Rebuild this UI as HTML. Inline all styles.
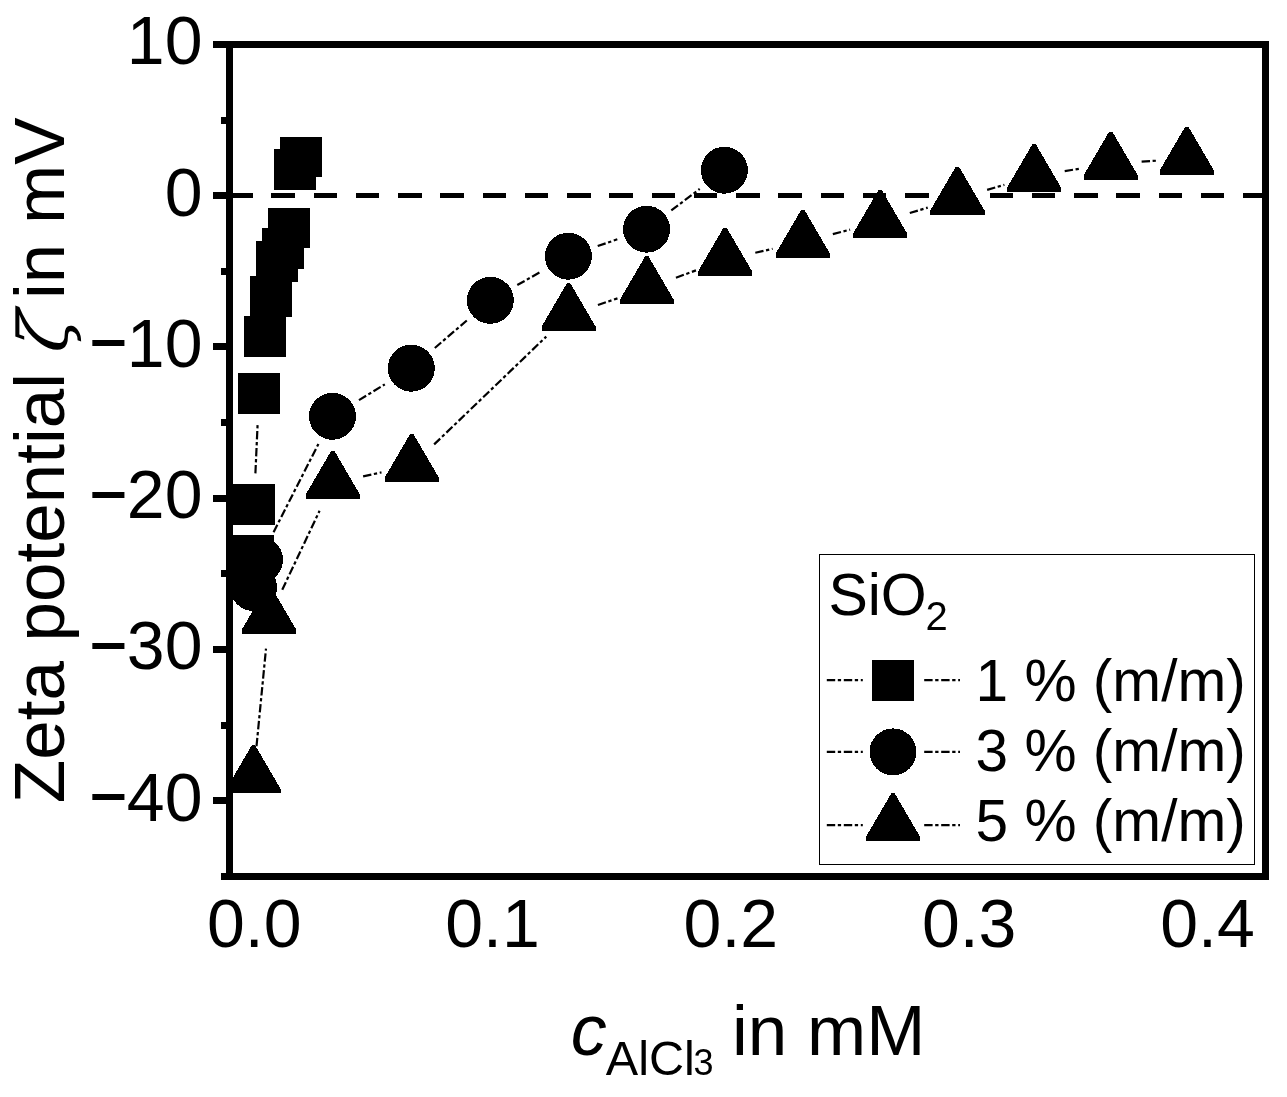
<!DOCTYPE html>
<html lang="en"><head><meta charset="utf-8"><title>Zeta potential vs AlCl3 concentration</title>
<style>html,body{margin:0;padding:0;background:#fff;}body{width:1287px;height:1097px;overflow:hidden;}svg{display:block;will-change:transform;}text{font-family:"Liberation Sans",Arial,sans-serif;fill:#000;}</style>
</head><body>
<svg width="1287" height="1097" viewBox="0 0 1287 1097">
<rect x="0" y="0" width="1287" height="1097" fill="#fff"/>
<g shape-rendering="crispEdges" fill="#000">
<rect x="226" y="41" width="1043" height="7"/>
<rect x="226" y="873" width="1043" height="7"/>
<rect x="226" y="41" width="7" height="839"/>
<rect x="1262" y="41" width="7" height="839"/>
<rect x="213" y="41" width="14" height="7"/>
<rect x="213" y="192" width="14" height="7"/>
<rect x="213" y="343" width="14" height="7"/>
<rect x="213" y="495" width="14" height="7"/>
<rect x="213" y="646" width="14" height="7"/>
<rect x="213" y="797" width="14" height="7"/>
<rect x="221" y="117" width="6" height="7"/>
<rect x="221" y="268" width="6" height="7"/>
<rect x="221" y="419" width="6" height="7"/>
<rect x="221" y="570" width="6" height="7"/>
<rect x="221" y="722" width="6" height="7"/>
<rect x="221" y="873" width="6" height="7"/>
</g>
<line x1="229" y1="195.5" x2="1262" y2="195.5" stroke="#000" stroke-width="5" stroke-dasharray="23.5 18.75" shape-rendering="crispEdges"/>
<g stroke="#000" stroke-width="2.2" stroke-dasharray="8.4 2.6 3.3 2.7" fill="none">
<line x1="255.4" y1="473.33" x2="257.6" y2="424.47"/>
<line x1="273.56" y1="532.17" x2="318.44" y2="443.93"/>
<line x1="358.96" y1="400.15" x2="384.84" y2="384.35"/>
<line x1="434.81" y1="347.99" x2="466.79" y2="320.51"/>
<line x1="517.29" y1="285.06" x2="541.41" y2="271.44"/>
<line x1="597.7" y1="246.08" x2="617.3" y2="239.32"/>
<line x1="671.3" y1="210.47" x2="699.7" y2="188.93"/>
<line x1="256.5" y1="746.25" x2="266" y2="648.65"/>
<line x1="282.25" y1="589.77" x2="319.55" y2="510.83"/>
<line x1="363.11" y1="476.32" x2="381.49" y2="472.38"/>
<line x1="434.14" y1="444.41" x2="546.26" y2="336.59"/>
<line x1="597.93" y1="305.05" x2="617.47" y2="298.35"/>
<line x1="675.93" y1="277.7" x2="695.97" y2="270.4"/>
<line x1="755.3" y1="252.8" x2="772.6" y2="248.8"/>
<line x1="832.82" y1="234.07" x2="850.08" y2="229.63"/>
<line x1="909.79" y1="212.99" x2="927.71" y2="207.61"/>
<line x1="987.13" y1="189.9" x2="1004.37" y2="184.8"/>
<line x1="1064.71" y1="171.09" x2="1080.09" y2="168.61"/>
<line x1="1141.63" y1="161.67" x2="1155.87" y2="160.73"/>
</g>
<g fill="#000" shape-rendering="crispEdges">
<rect x="280" y="137" width="42" height="40"/>
<rect x="274" y="149" width="42" height="41"/>
<rect x="268" y="208" width="42" height="40"/>
<rect x="262" y="228" width="42" height="41"/>
<rect x="256" y="241" width="42" height="41"/>
<rect x="250" y="276" width="42" height="41"/>
<rect x="244" y="316" width="42" height="41"/>
<rect x="238" y="373" width="42" height="41"/>
<rect x="233" y="484" width="42" height="41"/>
<rect x="232" y="535" width="42" height="41"/>
<circle cx="253.5" cy="587.5" r="23.5"/>
<circle cx="259.5" cy="559.8" r="23.5"/>
<circle cx="332.5" cy="416.3" r="23.5"/>
<circle cx="411.3" cy="368.2" r="23.5"/>
<circle cx="490.3" cy="300.3" r="23.5"/>
<circle cx="568.4" cy="256.2" r="23.5"/>
<circle cx="646.6" cy="229.2" r="23.5"/>
<circle cx="724.4" cy="170.2" r="23.5"/>
<polygon points="251.9,745.1 255.1,745.1 280.6,788.8 280.6,793.2 226.4,793.2 226.4,788.8"/>
<polygon points="267.4,585.8 270.6,585.8 296.1,629.5 296.1,633.9 241.9,633.9 241.9,629.5"/>
<polygon points="331.2,450.8 334.4,450.8 359.9,494.5 359.9,498.9 305.7,498.9 305.7,494.5"/>
<polygon points="410.2,433.9 413.4,433.9 438.9,477.6 438.9,482 384.7,482 384.7,477.6"/>
<polygon points="567,283.1 570.2,283.1 595.7,326.8 595.7,331.2 541.5,331.2 541.5,326.8"/>
<polygon points="645.2,256.3 648.4,256.3 673.9,300 673.9,304.4 619.7,304.4 619.7,300"/>
<polygon points="723.5,227.8 726.7,227.8 752.2,271.5 752.2,275.9 698,275.9 698,271.5"/>
<polygon points="801.2,209.8 804.4,209.8 829.9,253.5 829.9,257.9 775.7,257.9 775.7,253.5"/>
<polygon points="878.5,189.9 881.7,189.9 907.2,233.6 907.2,238 853,238 853,233.6"/>
<polygon points="955.8,166.7 959,166.7 984.5,210.4 984.5,214.8 930.3,214.8 930.3,210.4"/>
<polygon points="1032.5,144 1035.7,144 1061.2,187.7 1061.2,192.1 1007,192.1 1007,187.7"/>
<polygon points="1109.1,131.7 1112.3,131.7 1137.8,175.4 1137.8,179.8 1083.6,179.8 1083.6,175.4"/>
<polygon points="1185.2,126.7 1188.4,126.7 1213.9,170.4 1213.9,174.8 1159.7,174.8 1159.7,170.4"/>
</g>
<g font-size="68" text-anchor="end">
<text x="202.5" y="64">10</text>
<text x="202.5" y="215.5">0</text>
<text><tspan x="108.5" y="364.4" text-anchor="middle" font-size="63" stroke="#000" stroke-width="1.5">−</tspan><tspan x="202.5" y="366.5">10</tspan></text>
<text><tspan x="108.5" y="515.9" text-anchor="middle" font-size="63" stroke="#000" stroke-width="1.5">−</tspan><tspan x="202.5" y="518">20</tspan></text>
<text><tspan x="108.5" y="666.9" text-anchor="middle" font-size="63" stroke="#000" stroke-width="1.5">−</tspan><tspan x="202.5" y="669">30</tspan></text>
<text><tspan x="108.5" y="818.4" text-anchor="middle" font-size="63" stroke="#000" stroke-width="1.5">−</tspan><tspan x="202.5" y="820.5">40</tspan></text>
</g>
<g font-size="68" text-anchor="middle">
<text x="254.25" y="947.3">0.0</text>
<text x="492.55" y="947.3">0.1</text>
<text x="730.85" y="947.3">0.2</text>
<text x="969.15" y="947.3">0.3</text>
<text x="1207.45" y="947.3">0.4</text>
</g>
<g transform="translate(64,0) rotate(-90)" font-size="71">
<text x="-803.2" y="0">Zeta potential</text>
<text transform="translate(-360.7,2.5) skewX(-20)" style="font-family:'DejaVu Math TeX Gyre','DejaVu Serif',serif" font-size="68">ζ</text>
<text x="-117.5" y="0" text-anchor="end">in mV</text>
</g>
<text x="570.7" y="1054.7" font-size="72" font-style="italic">c</text>
<text x="605.8" y="1075.3" font-size="48.6">AlCl</text>
<text x="693.6" y="1075.4" font-size="36">3</text>
<text x="732" y="1054.5" font-size="71">in mM</text>
<rect x="819.5" y="554.5" width="435" height="310" fill="#fff" stroke="#000" stroke-width="1" shape-rendering="crispEdges"/>
<text x="828.4" y="615.2" font-size="59.0">SiO</text>
<text x="925.4" y="630.3" font-size="40">2</text>
<g stroke="#000" stroke-width="2.2" stroke-dasharray="8.4 2.6 3.3 2.7" fill="none">
<line x1="826.8" y1="680.2" x2="862.8" y2="680.2"/>
<line x1="924.2" y1="680.2" x2="960" y2="680.2"/>
<line x1="826.8" y1="751.9" x2="862.8" y2="751.9"/>
<line x1="924.2" y1="751.9" x2="960" y2="751.9"/>
<line x1="826.8" y1="825.2" x2="862.8" y2="825.2"/>
<line x1="924.2" y1="825.2" x2="960" y2="825.2"/>
</g>
<g fill="#000" shape-rendering="crispEdges">
<rect x="872.2" y="659.7" width="42" height="41"/>
<circle cx="893" cy="751.9" r="23.5"/>
<polygon points="891.4,793.2 894.6,793.2 920.1,836.9 920.1,841.3 865.9,841.3 865.9,836.9"/>
</g>
<g font-size="58.6">
<text x="975.6" y="700.6">1 % (m/m)</text>
<text x="975.6" y="770.7">3 % (m/m)</text>
<text x="975.6" y="840.8">5 % (m/m)</text>
</g>
</svg></body></html>
